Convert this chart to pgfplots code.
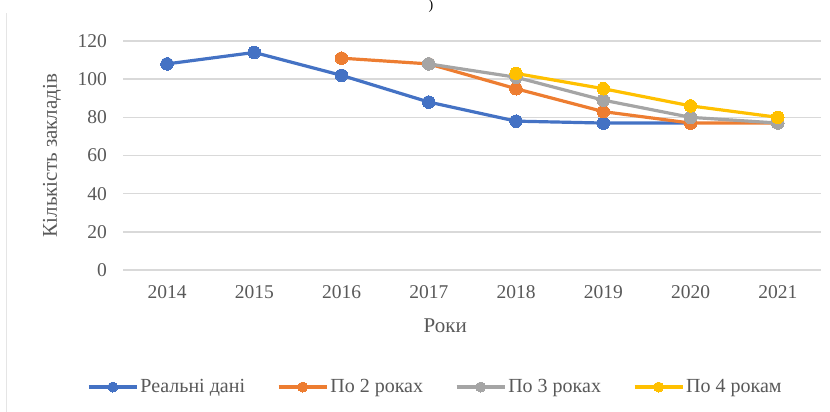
\documentclass[border=0pt]{standalone}
\usepackage{fontspec}
\setmainfont{Liberation Serif}
\usepackage{pgfplots}
\pgfplotsset{compat=1.18}
\definecolor{cblue}{HTML}{4472C4}
\definecolor{corange}{HTML}{ED7D31}
\definecolor{cgray}{HTML}{A5A5A5}
\definecolor{cyellow}{HTML}{FFC000}
\definecolor{ctext}{HTML}{595959}
\definecolor{cgrid}{HTML}{D9D9D9}
\begin{document}
\begin{tikzpicture}[x=1pt,y=1pt]
\useasboundingbox (0,0) rectangle (830,412);
\draw[color=black!10, line width=1.2pt] (6.5,0) -- (6.5,399);
\node[font=\fontsize{14}{16}\selectfont, color=black, anchor=north, inner sep=0pt] at (431,412.5) {)};
\begin{axis}[
  at={(123.4pt,142pt)}, anchor=south west,
  scale only axis, width=698pt, height=229pt,
  xmin=2013.5, xmax=2021.5, ymin=0, ymax=120,
  xtick={2014,2015,2016,2017,2018,2019,2020,2021},
  ytick={0,20,40,60,80,100,120},
  /pgf/number format/assume math mode=true,
  /pgf/number format/1000 sep={},
  axis line style={draw=none}, major tick length=0pt,
  ymajorgrids, grid style={color=cgrid, line width=1.4pt},
  ticklabel style={font=\fontsize{19.5}{22}\selectfont, color=ctext},
  yticklabel style={xshift=-13pt},
  xticklabel style={yshift=-12pt},
  xlabel={Роки}, ylabel={Кількість закладів},
  label style={font=\fontsize{21}{24}\selectfont, color=ctext},
  xlabel style={at={(axis description cs:0.461,-0.2445)}, anchor=center},
  ylabel style={at={(axis description cs:-0.1023,0.5)}, anchor=center},
  legend columns=4,
  legend style={at={(axis description cs:0.447,-0.511)}, anchor=center, draw=none,
    font=\fontsize{20}{22}\selectfont, text=ctext,
    /tikz/every even column/.append style={column sep=30pt},
    inner sep=0pt},
  legend image code/.code={
    \draw[mark repeat=2,mark phase=2,#1, mark size=5pt] plot coordinates {(0pt,0pt) (24pt,0pt) (48pt,0pt)};
  },
  every axis plot/.append style={line width=3.2pt, mark=*, mark size=6.3pt},
]
\addplot[color=cblue, mark options={fill=cblue, draw=cblue, line width=0pt}] coordinates {
 (2014,108) (2015,114) (2016,102) (2017,88) (2018,78) (2019,77) (2020,77)};
\addlegendentry{Реальні дані}
\addplot[color=corange, mark options={fill=corange, draw=corange, line width=0pt}] coordinates {
 (2016,111) (2017,108) (2018,95) (2019,83) (2020,77) (2021,77)};
\addlegendentry{По 2 роках}
\addplot[color=cgray, mark options={fill=cgray, draw=cgray, line width=0pt}] coordinates {
 (2017,108) (2018,101) (2019,89) (2020,80) (2021,77)};
\addlegendentry{По 3 роках}
\addplot[color=cyellow, mark options={fill=cyellow, draw=cyellow, line width=0pt}] coordinates {
 (2018,103) (2019,95) (2020,86) (2021,80)};
\addlegendentry{По 4 рокам}
\end{axis}
\end{tikzpicture}
\end{document}
